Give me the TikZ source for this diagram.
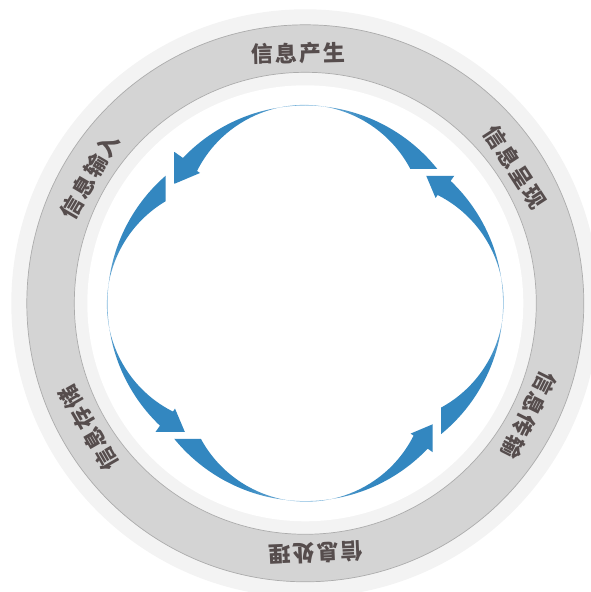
\documentclass[tikz,border=0pt]{standalone}
\usepackage{fontspec}
\usetikzlibrary{calc}
\newfontfamily\cjk{Noto Sans CJK SC}
\definecolor{outerl}{RGB}{243,243,243}
\definecolor{ringg}{RGB}{212,212,212}
\definecolor{ringb}{RGB}{172,172,172}
\definecolor{dk}{RGB}{51,135,192}
\definecolor{lt}{RGB}{135,188,224}
\definecolor{txt}{RGB}{86,77,77}
\pgfdeclarehorizontalshading{bandsh}{100bp}{color(0bp)=(dk); color(40bp)=(dk); color(50bp)=(lt); color(60bp)=(dk); color(100bp)=(dk)}
\tikzset{
  lbl/.style={font=\cjk\bfseries\fontsize{22}{22}\selectfont, text=txt, inner sep=0pt, anchor=center},
  ringline/.style={draw=ringb, line width=0.7pt}
}
\newcommand\chgap{\kern2pt}
\newcommand\bandarrow[3]{%
  \begin{scope}[transform canvas={shift={(305.3pt,288.7pt)}, rotate=#1}]
    \clip (-#3,300) -- (-#3,0) -- (60,0) -- (60,#2) -- (300,#2) -- (300,300) -- cycle;
    \shade[shading=bandsh] ([shift={(0,28.8)}]25:169) arc[start angle=25, end angle=136.4, radius=169]
      -- (-139.3,157.3) -- (-150.3,111.3) -- (-105.3,130.3) -- (-108.3,132.3)
      arc[start angle=153.3, end angle=15, radius=120] -- cycle;
  \end{scope}}
\begin{document}
\begin{tikzpicture}[x=1pt,y=1pt]
\useasboundingbox (0,0) rectangle (591,592);
\clip (0,0) rectangle (591,592);
\coordinate (C) at (305.3,288.7);
\fill[outerl] (C) circle (294);
\filldraw[fill=ringg, ringline] (C) circle (278.5);
\filldraw[fill=outerl, ringline] (C) circle (231);
\fill[white] (C) circle (218);
\bandarrow{0}{134.3}{131}
\bandarrow{90}{139.8}{128.7}
\bandarrow{180}{135.7}{127.2}
\bandarrow{270}{135.7}{127.3}
\node[lbl, rotate=1.5]    (top) at ($(C)+(91.5:250)$)  {信\chgap 息\chgap 产\chgap 生};
\node[lbl, rotate=-57]    (ur)  at ($(C)+(33:250)$)    {信\chgap 息\chgap 呈\chgap 现};
\node[lbl, rotate=-116.5] (lr)  at ($(C)+(-26.5:250)$) {信\chgap 息\chgap 传\chgap 输};
\node[lbl, rotate=-177.5] (bt)  at ($(C)+(-87.5:250)$) {信\chgap 息\chgap 处\chgap 理};
\node[lbl, rotate=120]    (ll)  at ($(C)+(-150:250)$)  {信\chgap 息\chgap 存\chgap 储};
\node[lbl, rotate=59.5]   (ul)  at ($(C)+(149.5:250)$) {信\chgap 息\chgap 输\chgap 入};
\end{tikzpicture}
\end{document}
